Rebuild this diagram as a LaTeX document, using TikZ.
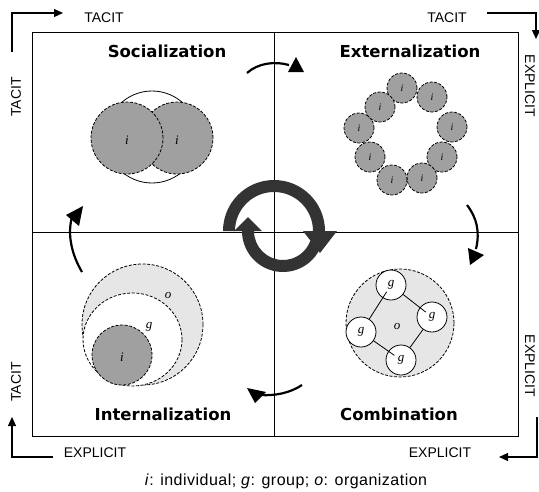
\documentclass[tikz,border=0pt]{standalone}
\usepackage{fontspec}
\setmainfont{Liberation Sans}
\newfontfamily\titlefont{DejaVu Sans}
\newfontfamily\letterfont{Liberation Serif}
\newfontfamily\captionfont[LetterSpace=3]{Liberation Sans}
\usetikzlibrary{arrows.meta}
\definecolor{midgray}{HTML}{A0A0A0}
\definecolor{palegray}{HTML}{E6E6E6}
\definecolor{ringgray}{HTML}{333333}
\begin{document}
\begin{tikzpicture}[x=1pt,y=-1pt,
  axislabel/.style={font=\fontsize{14}{14}\selectfont, inner sep=0pt},
  quadtitle/.style={font=\titlefont\bfseries\fontsize{16.5}{18}\selectfont, inner sep=0pt, anchor=base},
  letterbig/.style={font=\letterfont\itshape\fontsize{13}{13}\selectfont, inner sep=0pt},
  lettersmall/.style={font=\letterfont\itshape\fontsize{10}{10}\selectfont, inner sep=0pt},
  dashcirc/.style={circle, draw, dash pattern=on 3pt off 1.6pt, line width=0.8pt, inner sep=0pt},
  cornerarrow/.style={line width=1.2pt, -{Triangle[length=9pt,width=8pt]}},
  cyclearrow/.style={line width=2.2pt},
  cyclehead/.style={fill=black},
  frameline/.style={line width=1pt},
]
\useasboundingbox (0,0) rectangle (539,491);
\fill[white] (0,0) rectangle (539,491);

% frame and axes
\coordinate (frameTL) at (32,32);
\coordinate (frameBR) at (518,436);
\draw[frameline] (frameTL) rectangle (frameBR);
\coordinate (vtop) at (274,32);
\coordinate (vbot) at (274,436);
\coordinate (hleft) at (32,232);
\coordinate (hright) at (518,232);
\draw[frameline] (vtop) -- (vbot);
\draw[frameline] (hleft) -- (hright);

% corner arrows
\coordinate (tlA) at (12,52);
\coordinate (tlB) at (63,13);
\draw[cornerarrow] (tlA) |- (tlB);
\coordinate (trA) at (487,13);
\coordinate (trB) at (536,39);
\draw[cornerarrow] (trA) -| (trB);
\coordinate (blA) at (53,457);
\coordinate (blB) at (12,417);
\draw[cornerarrow] (blA) -| (blB);
\coordinate (brA) at (537,417);
\coordinate (brB) at (499,457);
\draw[cornerarrow] (brA) |- (brB);

% axis labels
\node[axislabel, anchor=base] (lTop1) at (104,22) {TACIT};
\node[axislabel, anchor=base] (lTop2) at (447,22) {TACIT};
\node[axislabel, anchor=base] (lBot1) at (95,457) {EXPLICIT};
\node[axislabel, anchor=base] (lBot2) at (440,457) {EXPLICIT};
\node[axislabel, rotate=90] (lLeft1) at (16,97) {TACIT};
\node[axislabel, rotate=90] (lLeft2) at (16,382) {TACIT};
\node[axislabel, rotate=-90] (lRight1) at (530,86) {EXPLICIT};
\node[axislabel, rotate=-90] (lRight2) at (530,366) {EXPLICIT};

% titles
\node[quadtitle] (tSoc) at (167,57) {Socialization};
\node[quadtitle] (tExt) at (410,57) {Externalization};
\node[quadtitle] (tInt) at (163,420) {Internalization};
\node[quadtitle] (tCom) at (399,420) {Combination};

% Socialization
\node[circle, draw, line width=0.8pt, fill=white, minimum size=92pt, inner sep=0pt] (sOuter) at (152,137) {};
\node[dashcirc, fill=midgray, minimum size=72pt, letterbig] (sRight) at (177,138) {};
\node[dashcirc, fill=midgray, minimum size=72pt, letterbig] (sLeft) at (127,138) {};
\node[letterbig] (sLi) at (127,140) {i};
\node[letterbig] (sRi) at (177,140) {i};

% Externalization
\foreach \n/\px/\py in {1/402/88, 2/432/97, 3/452/127, 4/442/157, 5/422/178, 6/392/180, 7/370/157, 8/359/128, 9/380/107}{
  \node[dashcirc, fill=midgray, minimum size=30pt, lettersmall] (e\n) at (\px,\py) {i};
}

% Internalization
\node[dashcirc, fill=palegray, minimum size=121pt] (iO) at (142.5,324.5) {};
\draw[dash pattern=on 3pt off 1.6pt, line width=0.8pt, fill=white] (132.5,339.5) ellipse [x radius=49.5, y radius=46.5];
\node[dashcirc, fill=midgray, minimum size=60pt] (iI) at (122,355) {};
\node[letterbig] (iOl) at (168,295) {o};
\node[letterbig] (iGl) at (149,327) {g};
\node[letterbig] (iIl) at (122,357) {i};

% Combination
\node[dashcirc, fill=palegray, minimum size=108pt] (cO) at (400,323) {};
\node[letterbig] (cOl) at (397,326) {o};
\node[circle, draw, line width=0.8pt, fill=white, minimum size=30pt, inner sep=0pt, letterbig] (gt) at (391,285) {g};
\node[circle, draw, line width=0.8pt, fill=white, minimum size=30pt, inner sep=0pt, letterbig] (gr) at (432,317) {g};
\node[circle, draw, line width=0.8pt, fill=white, minimum size=30pt, inner sep=0pt, letterbig] (gb) at (401,360) {g};
\node[circle, draw, line width=0.8pt, fill=white, minimum size=30pt, inner sep=0pt, letterbig] (gl) at (361,332) {g};
\draw[line width=0.8pt, shorten >=8pt] (gl) -- (gt.center);
\draw[line width=0.8pt, shorten >=8pt] (gt) -- (gr.center);
\draw[line width=0.8pt] (gr) -- (gb);
\draw[line width=0.8pt, shorten >=8pt] (gl) -- (gb.center);

% cycle arrows between quadrants
\coordinate (caTopA) at (247,73);
\coordinate (caTopB) at (289,65);
\draw[cyclearrow] (caTopA) .. controls (258,63) and (275,61) .. (caTopB);
\fill[cyclehead] (288,72) -- (304,72) -- (296,57) -- cycle;
\coordinate (caRightA) at (467,205);
\coordinate (caRightB) at (476,249);
\draw[cyclearrow] (caRightA) .. controls (477,218) and (480,232) .. (caRightB);
\fill[cyclehead] (468,248) -- (484,255) -- (470,265) -- cycle;
\coordinate (caBotA) at (302,385);
\coordinate (caBotB) at (260,395);
\draw[cyclearrow] (caBotA) .. controls (290,393) and (275,396) .. (caBotB);
\fill[cyclehead] (247,388) -- (266,392) -- (255,403) -- cycle;
\coordinate (caLeftA) at (82,272);
\coordinate (caLeftB) at (72,217);
\draw[cyclearrow] (caLeftA) .. controls (72,255) and (67,235) .. (caLeftB);
\fill[cyclehead] (66,215) -- (83,206) -- (79,226) -- cycle;

% central ring arrows
\fill[ringgray] (223,231) arc[start angle=180, end angle=360, radius=51]
  -- (337,231) -- (320,253) -- (303,231) -- (313,231)
  arc[start angle=360, end angle=180, radius=39] -- cycle;
\fill[ringgray] (283,231) ++(20:41) arc[start angle=20, end angle=180, radius=41]
  -- (234,231) -- (248,217) -- (262,231) -- (254,231)
  arc[start angle=180, end angle=20, radius=29] -- cycle;

% caption
\node[font=\captionfont\fontsize{16}{16}\selectfont, inner sep=0pt, anchor=base] (caption) at (286,485) {\textit{i}: individual; \textit{g}: group; \textit{o}: organization};
\end{tikzpicture}
\end{document}
